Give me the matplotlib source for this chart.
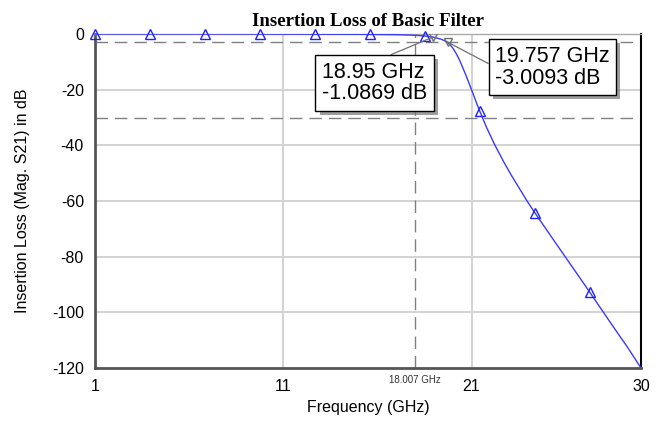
import numpy as np
import matplotlib.pyplot as plt
import matplotlib.patheffects as pe

# curve points
freq = [1.0, 4.0, 8.0, 12.0, 15.0, 17.0, 18.0, 18.5, 18.95, 19.4, 19.757,
        20.0, 20.2, 20.38, 20.7, 21.0, 21.35, 21.8, 22.24, 22.7, 23.1, 23.95, 24.3,
        25.5, 27.1, 28.5, 29.3, 30.0]
loss = [0.0, 0.0, 0.0, -0.05, -0.1, -0.25, -0.45, -0.7, -1.0869, -1.9, -3.0093,
        -5.0, -7.2, -9.6, -14.8, -20.0, -26.3, -33.6, -39.9, -45.8, -50.6, -60.0, -63.6,
        -75.4, -91.0, -104.9, -112.7, -120.0]

# triangle markers along the trace
mk_freq = [1.0, 3.92, 6.84, 9.76, 12.68, 15.6, 18.52, 21.44, 24.36, 27.28]
mk_loss = [0.0, 0.0, 0.0, 0.0, -0.05, -0.15, -0.7, -27.7, -64.4, -92.6]

# marker readouts
m_freq = [18.95, 19.757]
m_loss = [-1.0869, -3.0093]
m_text = ['18.95 GHz\n-1.0869 dB', '19.757 GHz\n-3.0093 dB']

xticks = [1, 11, 21, 30]
yticks = [0, -20, -40, -60, -80, -100, -120]
ref_freq = 18.007
ref_levels = [-3, -30]


def main():
	plt.rcParams['font.family'] = ['Liberation Sans', 'DejaVu Sans']
	plt.rcParams['axes.unicode_minus'] = False
	fig = plt.figure(figsize=(6.56, 4.30), dpi=100)
	ax = fig.add_axes([0.1448, 0.1442, 0.8323, 0.7767])

	ax.set_xlim(1, 30)
	ax.set_ylim(-120, 0)
	ax.set_xticks(xticks)
	ax.set_yticks(yticks)
	ax.tick_params(length=0, labelsize=11.5, pad=8)

	for x in [11, 21]:
		ax.axvline(x, color='#d3d3d3', lw=1.4, zorder=0)
	for y in yticks[1:-1]:
		ax.axhline(y, color='#d3d3d3', lw=1.4, zorder=0)

	for y in ref_levels:
		ax.axhline(y, color='#808080', lw=1.0, ls=(0, (9, 5)), zorder=1)
	ax.axvline(ref_freq, color='#808080', lw=1.0, ls=(0, (9, 5)), zorder=1)
	ax.text(ref_freq, -122.5, '%.3f GHz' % ref_freq, ha='center', va='top',
	        fontsize=7, color='#333333')

	ax.plot(freq, loss, color='#3a3aff', lw=1.0, zorder=3)
	ax.plot(mk_freq, mk_loss, ls='none', marker='^', ms=7, mfc='none',
	        mec='#2020ff', mew=1.0, zorder=4, clip_on=False)
	ax.plot(m_freq, m_loss, ls='none', marker='v', ms=6, mfc='none',
	        mec='#707070', mew=1.0, zorder=4)

	boxes = [(15.85, -17.6, (0.5, 1.0)), (25.3, -11.9, (0.0, 0.5))]
	for (fx, fy), (bx, by, rp), txt in zip(zip(m_freq, m_loss), boxes, m_text):
		t = ax.annotate(txt, xy=(fx, fy), xytext=(bx, by), ha='center', va='center',
		                fontsize=15.5, multialignment='left', zorder=6, linespacing=1.05,
		                bbox=dict(boxstyle='square,pad=0.3', fc='white', ec='black', lw=1.0),
		                arrowprops=dict(arrowstyle='-', color='#707070', lw=0.9,
		                                relpos=rp, shrinkA=0, shrinkB=0))
		t.get_bbox_patch().set_path_effects([
			pe.SimplePatchShadow(offset=(3, -3), shadow_rgbFace='#777777', alpha=0.7),
			pe.Normal()])

	for s in ['left', 'bottom']:
		ax.spines[s].set_color('#555555')
		ax.spines[s].set_linewidth(2.0)
	ax.spines['right'].set_color('black')
	ax.spines['right'].set_linewidth(1.5)
	ax.spines['top'].set_color('#aaaaaa')
	ax.spines['top'].set_linewidth(1.0)

	ax.set_xlabel('Frequency (GHz)', fontsize=11.5, labelpad=4)
	ax.set_ylabel('Insertion Loss (Mag. S21) in dB', fontsize=11.5, labelpad=16)
	ax.set_title('Insertion Loss of Basic Filter', fontsize=13.5, fontweight='bold',
	             family='Liberation Serif', pad=6)

	fig.savefig('out.png', dpi=100)


if __name__ == '__main__':
	main()
